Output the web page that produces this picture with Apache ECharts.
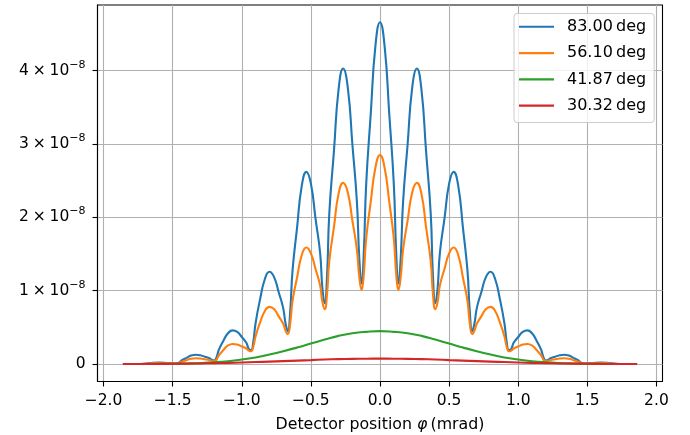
<!DOCTYPE html>
<html>
<head>
<meta charset="utf-8">
<script src="https://cdn.jsdelivr.net/npm/echarts@6/dist/echarts.min.js"></script>
<style>
  html, body { margin: 0; padding: 0; background: #fff; }
  #chart { width: 690px; height: 435px; }
</style>
</head>
<body>
<div id="chart"></div>
<script>
// Detector positions (mrad) for the fringe patterns
const xFringe = [
  -1.86, -1.8, -1.733, -1.667, -1.6, -1.533,
  -1.467, -1.45, -1.433, -1.4, -1.367,
  -1.333, -1.3, -1.267, -1.233, -1.217, -1.2, -1.183, -1.167, -1.133, -1.1,
  -1.067, -1.033, -1.0, -0.967, -0.95, -0.933, -0.917, -0.9, -0.867, -0.833,
  -0.8, -0.767, -0.733, -0.7, -0.683, -0.667, -0.65, -0.633, -0.6, -0.567,
  -0.533, -0.5, -0.467, -0.433, -0.417, -0.4, -0.383, -0.367, -0.333, -0.3,
  -0.267, -0.233, -0.2, -0.167, -0.15, -0.133, -0.117, -0.1, -0.067, -0.033,
  0,
  0.033, 0.067, 0.1, 0.117, 0.133, 0.15, 0.167, 0.2, 0.233, 0.267,
  0.3, 0.333, 0.367, 0.383, 0.4, 0.417, 0.433, 0.467, 0.5, 0.533,
  0.567, 0.6, 0.633, 0.65, 0.667, 0.683, 0.7, 0.733, 0.767, 0.8,
  0.833, 0.867, 0.9, 0.917, 0.933, 0.95, 0.967, 1.0, 1.033, 1.067,
  1.1, 1.133, 1.167, 1.183, 1.2, 1.217, 1.233, 1.267, 1.3, 1.333,
  1.367, 1.4, 1.433, 1.45, 1.467,
  1.533, 1.6, 1.667, 1.733, 1.8, 1.86
];

// Intensities in units of 1e-8
const fringe83 = [
  0.001, 0.002, 0.002, 0.014, 0.022, 0.016,
  0.008, 0.027, 0.053, 0.085, 0.116,
  0.127, 0.12, 0.10, 0.079, 0.058, 0.05, 0.09, 0.19, 0.32, 0.42,
  0.46, 0.44, 0.37, 0.29, 0.21, 0.19, 0.30, 0.56, 0.89, 1.16,
  1.26, 1.19, 0.98, 0.76, 0.55, 0.45, 0.71, 1.27, 1.86, 2.42,
  2.62, 2.46, 1.99, 1.51, 1.04, 0.83, 1.21, 2.05, 2.91, 3.74,
  4.03, 3.77, 3.00, 2.21, 1.45, 1.10, 1.53, 2.45, 3.41, 4.34,
  4.66,
  4.34, 3.41, 2.45, 1.53, 1.10, 1.45, 2.21, 3.00, 3.77, 4.03,
  3.74, 2.91, 2.05, 1.21, 0.83, 1.04, 1.51, 1.99, 2.46, 2.62,
  2.42, 1.86, 1.27, 0.71, 0.45, 0.55, 0.76, 0.98, 1.19, 1.26,
  1.16, 0.89, 0.56, 0.30, 0.19, 0.21, 0.29, 0.37, 0.44, 0.46,
  0.42, 0.32, 0.19, 0.09, 0.05, 0.058, 0.079, 0.10, 0.12, 0.127,
  0.116, 0.085, 0.053, 0.027, 0.008,
  0.016, 0.022, 0.014, 0.002, 0.002, 0.001
];

const fringe56 = [
  0.001, 0.001, 0.001, 0.008, 0.013, 0.01,
  0.006, 0.018, 0.034, 0.054, 0.073,
  0.08, 0.076, 0.066, 0.055, 0.046, 0.04, 0.06, 0.115, 0.193, 0.254,
  0.275, 0.266, 0.24, 0.213, 0.185, 0.175, 0.235, 0.38, 0.57, 0.725,
  0.78, 0.75, 0.65, 0.55, 0.455, 0.41, 0.55, 0.86, 1.18, 1.48,
  1.59, 1.51, 1.30, 1.07, 0.85, 0.75, 0.96, 1.40, 1.87, 2.32,
  2.47, 2.34, 1.96, 1.56, 1.19, 1.01, 1.23, 1.71, 2.21, 2.68,
  2.85,
  2.68, 2.21, 1.71, 1.23, 1.01, 1.19, 1.56, 1.96, 2.34, 2.47,
  2.32, 1.87, 1.40, 0.96, 0.75, 0.85, 1.07, 1.30, 1.51, 1.59,
  1.48, 1.18, 0.86, 0.55, 0.41, 0.455, 0.55, 0.65, 0.75, 0.78,
  0.725, 0.57, 0.38, 0.235, 0.175, 0.185, 0.213, 0.24, 0.266, 0.275,
  0.254, 0.193, 0.115, 0.06, 0.04, 0.046, 0.055, 0.066, 0.076, 0.08,
  0.073, 0.054, 0.034, 0.018, 0.006,
  0.01, 0.013, 0.008, 0.001, 0.001, 0.001
];

// Detector positions (mrad) for the smooth envelopes
const xEnvelope = [
  -1.86, -1.8, -1.7, -1.6, -1.5, -1.4, -1.3, -1.2, -1.1, -1.0,
  -0.9, -0.8, -0.7, -0.6, -0.5, -0.4, -0.3, -0.2, -0.1,
  0,
  0.1, 0.2, 0.3, 0.4, 0.5, 0.6, 0.7, 0.8, 0.9,
  1.0, 1.1, 1.2, 1.3, 1.4, 1.5, 1.6, 1.7, 1.8, 1.86
];

const env41 = [
  0.001, 0.001, 0.002, 0.003, 0.005, 0.009, 0.015, 0.025, 0.04, 0.062,
  0.09, 0.13, 0.175, 0.225, 0.28, 0.335, 0.385, 0.42, 0.44,
  0.45,
  0.44, 0.42, 0.385, 0.335, 0.28, 0.225, 0.175, 0.13, 0.09,
  0.062, 0.04, 0.025, 0.015, 0.009, 0.005, 0.003, 0.002, 0.001, 0.001
];

const env30 = [
  0.001, 0.001, 0.002, 0.003, 0.005, 0.007, 0.009, 0.013, 0.017, 0.022,
  0.028, 0.034, 0.041, 0.048, 0.055, 0.062, 0.068, 0.072, 0.074,
  0.075,
  0.074, 0.072, 0.068, 0.062, 0.055, 0.048, 0.041, 0.034, 0.028,
  0.022, 0.017, 0.013, 0.009, 0.007, 0.005, 0.003, 0.002, 0.001, 0.001
];

const seriesNames = ['83.00\u2009deg', '56.10\u2009deg', '41.87\u2009deg', '30.32\u2009deg'];
const seriesColors = ['#1f77b4', '#ff7f0e', '#2ca02c', '#d62728'];

const xTicks = [-2.0, -1.5, -1.0, -0.5, 0.0, 0.5, 1.0, 1.5, 2.0];
const yTicks = [0, 1, 2, 3, 4];   // multiples of 1e-8
const yExponent = '\u22128';

const FONT = 'DejaVu Sans';
const pairs = (xs, ys) => xs.map((x, i) => [x, ys[i]]);

const lineSeries = [
  [xFringe, fringe83],
  [xFringe, fringe56],
  [xEnvelope, env41],
  [xEnvelope, env30]
].map(([xs, ys], i) => ({
  name: seriesNames[i],
  type: 'line',
  data: pairs(xs, ys),
  smooth: 0.5,
  showSymbol: false,
  symbol: 'none',
  lineStyle: { color: seriesColors[i], width: 2.1 },
  itemStyle: { color: seriesColors[i] },
  emphasis: { disabled: true },
  z: 3
}));

const chart = echarts.init(document.getElementById('chart'), null, { renderer: 'canvas' });

chart.setOption({
  animation: false,
  backgroundColor: '#ffffff',
  textStyle: { fontFamily: FONT },
  grid: {
    left: 97.5, right: 27.5, top: 5, bottom: 53.5,
    containLabel: false,
    outerBoundsMode: 'none',
    show: true,
    borderColor: '#000000',
    borderWidth: 1.1,
    backgroundColor: 'transparent'
  },
  legend: {
    orient: 'vertical',
    left: 514,
    top: 13.5,
    padding: [5, 8, 8.6, 5],
    itemGap: 9.8,
    itemWidth: 35,
    itemHeight: 2.2,
    icon: 'rect',
    backgroundColor: 'rgba(255,255,255,0.8)',
    borderColor: '#cccccc',
    borderWidth: 1,
    borderRadius: 3,
    selectedMode: false,
    textStyle: {
      fontFamily: FONT, fontSize: 16, color: '#000', lineHeight: 16.5,
      padding: [0, 0, 0, 8]
    },
    data: seriesNames
  },
  xAxis: {
    type: 'value',
    min: -2.044,
    max: 2.044,
    name: '{n|Detector position }{i|\u03c6}{n|\u2009(mrad)}',
    nameLocation: 'middle',
    nameGap: 35,
    nameTextStyle: {
      rich: {
        n: { fontFamily: FONT, fontSize: 15.8, color: '#000' },
        i: { fontFamily: FONT, fontSize: 15.8, color: '#000', fontStyle: 'italic' }
      }
    },
    axisLine: { show: true, onZero: false, lineStyle: { color: '#000', width: 1.1 } },
    axisTick: { show: true, inside: false, length: 5, customValues: xTicks, lineStyle: { color: '#000', width: 1.1 } },
    axisLabel: {
      customValues: xTicks,
      margin: 11,
      fontFamily: FONT, fontSize: 15.5, color: '#000',
      formatter: v => v.toFixed(1).replace('-', '\u2212')
    },
    splitLine: { show: true, lineStyle: { color: '#b0b0b0', width: 1.1 } }
  },
  yAxis: {
    type: 'value',
    min: -0.237,
    max: 4.895,
    axisLine: { show: true, onZero: false, lineStyle: { color: '#000', width: 1.1 } },
    axisTick: { show: true, inside: false, length: 5, customValues: yTicks, lineStyle: { color: '#000', width: 1.1 } },
    axisLabel: {
      customValues: yTicks,
      margin: 12,
      fontFamily: FONT, fontSize: 15.5, color: '#000',
      formatter: v => v === 0 ? '{m|0}' : '{m|' + v + '\u2005\u00d7\u200510}{s|' + yExponent + '}',
      rich: {
        m: { fontFamily: FONT, fontSize: 15.5, lineHeight: 15.5, color: '#000' },
        s: { fontFamily: FONT, fontSize: 11, lineHeight: 11, color: '#000',
             verticalAlign: 'bottom', padding: [0, 0, 8, 0] }
      }
    },
    splitLine: { show: true, lineStyle: { color: '#b0b0b0', width: 1.1 } }
  },
  series: lineSeries
});
</script>
</body>
</html>
